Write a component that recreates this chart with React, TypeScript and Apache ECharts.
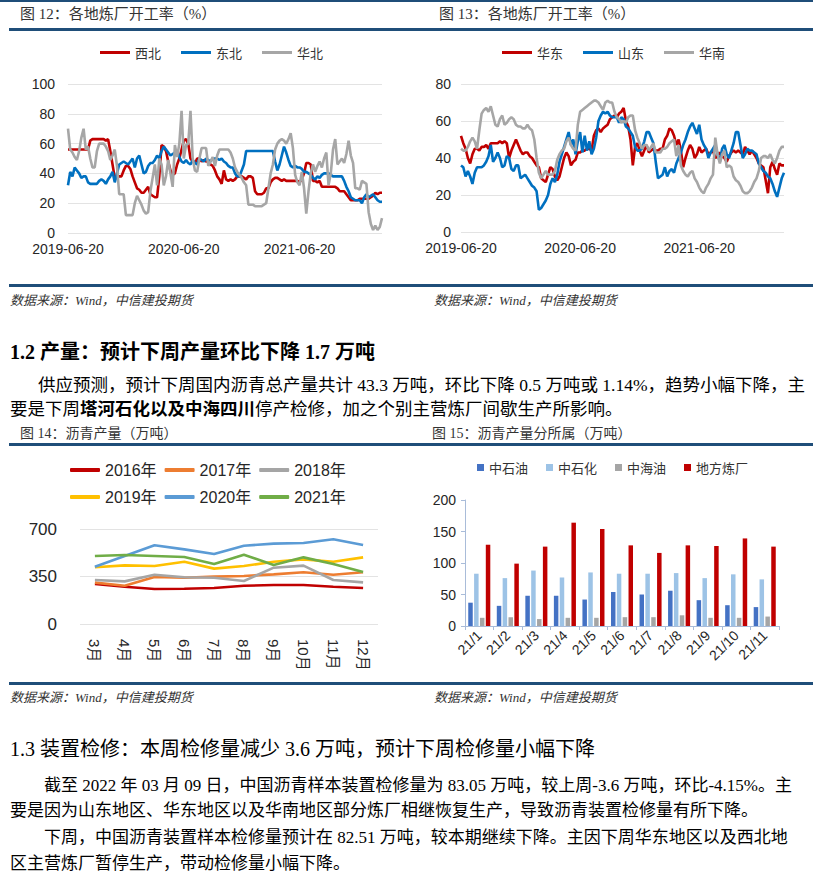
import React, { useEffect, useRef } from "react";
import * as echarts from "echarts";

// ---------- Data ----------
const weeklyTickLabels = ["2019-06-20", "2020-06-20", "2021-06-20"];

// 图12 各地炼厂开工率（%）
const xibei = [
  56, 56, 56, 56, 56, 56, 56, 56, 56, 56,
  62, 63, 63, 63, 63, 63, 63, 62, 63, 55,
  46, 37, 37, 38, 38, 42, 45, 45, 43, 38,
  34, 30, 29, 27, 27, 29, 31, 26, 25, 24,
  24, 38, 59, 58, 55, 48, 42, 39, 40, 46,
  50, 56, 62, 63, 60, 50, 48, 47, 50, 50,
  48, 49, 48, 48, 46, 45, 42, 38, 36, 33,
  42, 36, 35, 36, 35, 36, 38, 38, 38, 37,
  36, 38, 38, 37, 28, 26, 26, 26, 27, 30,
  30, 34, 36, 37, 37, 36, 35, 36, 35, 35,
  35, 35, 35, 35, 34, 36, 40, 47, 47, 46,
  35, 35, 34, 35, 31, 31, 31, 31, 31, 31,
  31, 30, 28, 28, 28, 26, 24, 22, 22, 22,
  22, 23, 23, 23, 23, 23, 24, 25, 27, 26,
  27, 27,
];
const dongbei = [
  32, 41, 38, 44, 42, 40, 37, 38, 38, 34,
  33, 33, 33, 33, 35, 36, 35, 33, 36, 38,
  41, 34, 40, 46, 47, 48, 47, 46, 48, 50,
  44, 50, 52, 46, 40, 41, 45, 47, 47, 49,
  52, 50, 55, 58, 56, 54, 52, 53, 54, 55,
  51, 48, 47, 49, 47, 46, 49, 47, 46, 50,
  49, 48, 50, 49, 48, 50, 50, 50, 49, 50,
  48, 47, 45, 44, 44, 40, 38, 38, 42, 46,
  55, 55, 55, 55, 55, 55, 55, 55, 55, 55,
  55, 55, 55, 48, 42, 46, 52, 58, 54, 49,
  45, 44, 45, 44, 44, 43, 41, 41, 40, 39,
  37, 36, 38, 37, 39, 40, 40, 40, 39, 38,
  38, 38, 38, 38, 35, 31, 28, 24, 23, 22,
  22, 22, 20, 24, 26, 24, 25, 26, 24, 22,
  21, 21,
];
const huabei = [
  70, 56, 54, 51, 49, 55, 64, 70, 56, 58,
  50, 44, 44, 55, 60, 60, 60, 58, 55, 49,
  52, 56, 45, 26, 26, 26, 12, 12, 12, 12,
  20, 25, 22, 19, 15, 13, 14, 28, 37, 46,
  32, 50, 46, 32, 38, 49, 40, 31, 59, 51,
  60, 82, 50, 59, 60, 82, 50, 42, 41, 50,
  57, 57, 57, 45, 48, 51, 45, 52, 56, 56,
  56, 56, 56, 54, 50, 44, 41, 39, 37, 34,
  32, 19, 19, 19, 18, 18, 18, 18, 19, 20,
  30, 40, 46, 56, 60, 62, 63, 62, 60, 63,
  67, 57, 39, 34, 32, 41, 30, 13, 28, 40,
  46, 41, 45, 48, 44, 50, 54, 32, 40, 56,
  63, 46, 48, 50, 47, 53, 62, 52, 47, 30,
  30, 29, 35, 34, 33, 14, 6, 2, 5, 2,
  4, 10,
];

// 图13 各地炼厂开工率（%）
const huadong = [
  52, 48, 45, 40, 37, 42, 45, 45, 44, 46,
  46, 47, 45, 48, 48, 48, 48, 49, 48, 49,
  48, 40, 44, 47, 50, 47, 44, 42, 43, 43,
  41, 40, 38, 36, 35, 29, 28, 27, 31, 35,
  34, 30, 28, 30, 35, 40, 43, 41, 36, 38,
  39, 43, 43, 44, 44, 45, 45, 44, 52, 55,
  56, 54, 56, 57, 58, 61, 62, 63, 62, 64,
  65, 67, 60, 57, 50, 36, 46, 48, 44, 41,
  44, 47, 43, 44, 45, 44, 44, 45, 45, 50,
  52, 56, 55, 52, 47, 50, 44, 35, 40, 44,
  47, 45, 40, 42, 46, 43, 44, 45, 42, 43,
  44, 40, 41, 43, 41, 40, 38, 41, 43, 44,
  43, 44, 43, 42, 46, 44, 42, 44, 42, 40,
  37, 36, 35, 28, 21, 35, 38, 34, 31, 37,
  36, 36,
];
const shandong = [
  36, 35, 30, 33, 30, 26, 32, 35, 35, 35,
  36, 38, 41, 47, 38, 40, 43, 40, 35, 36,
  41, 40, 34, 33, 36, 36, 29, 30, 31, 29,
  27, 25, 24, 22, 12, 13, 15, 17, 20, 26,
  29, 27, 31, 38, 42, 46, 50, 54, 47, 50,
  42, 49, 54, 43, 52, 44, 49, 42, 45, 51,
  60, 63, 65, 64, 65, 63, 62, 62, 62, 59,
  62, 61, 57, 56, 54, 52, 46, 44, 44, 45,
  49, 54, 54, 51, 48, 38, 29, 30, 31, 35,
  30, 33, 34, 32, 37, 40, 43, 47, 50, 54,
  57, 59, 56, 53, 58, 50, 47, 45, 40, 43,
  45, 47, 42, 38, 45, 47, 42, 40, 44, 48,
  54, 54, 47, 40, 42, 45, 44, 44, 43, 42,
  37, 35, 33, 32, 30, 29, 26, 22, 19, 24,
  29, 32,
];
const huanan = [
  45, 44, 44, 46, 49, 51, 49, 45, 55, 64,
  66, 67, 65, 68, 63, 58, 57, 61, 63, 58,
  59, 61, 62, 61, 58, 57, 57, 56, 56, 58,
  56, 55, 50, 40, 32, 29, 31, 33, 31, 31,
  31, 33, 39, 42, 44, 45, 49, 51, 47, 45,
  44, 58, 65, 66, 67, 68, 69, 70, 71, 71,
  70, 68, 66, 70, 71, 70, 70, 65, 62, 61,
  59, 60, 59, 62, 63, 63, 55, 51, 48, 45,
  47, 47, 44, 46, 48, 43, 43, 43, 45, 45,
  46, 48, 49, 50, 41, 47, 36, 33, 31, 30,
  32, 33, 29, 27, 24, 22, 21, 24, 26, 29,
  31, 51, 42, 37, 42, 44, 35, 36, 35, 30,
  28, 27, 25, 22, 21, 21, 22, 24, 27, 29,
  33, 40, 41, 41, 40, 42, 39, 37, 40, 44,
  46, 46,
];

// 图14 沥青产量（万吨）
const months = ["3月", "4月", "5月", "6月", "7月", "8月", "9月", "10月", "11月", "12月"];
const y2016 = [295, 275, 258, 260, 265, 282, 287, 287, 275, 265];
const y2017 = [305, 282, 346, 341, 349, 354, 366, 381, 363, 381];
const y2018 = [324, 314, 363, 344, 341, 317, 415, 430, 324, 307];
const y2019 = [418, 432, 427, 459, 408, 427, 459, 476, 459, 491];
const y2020 = [422, 501, 580, 550, 516, 577, 592, 597, 624, 582];
const y2021 = [501, 508, 501, 494, 442, 511, 435, 491, 442, 383];

// 图15 沥青产量分所属（万吨）
const barMonths = ["21/1", "21/2", "21/3", "21/4", "21/5", "21/6", "21/7", "21/8", "21/9", "21/10", "21/11"];
const zhongshiyou = [37, 32, 48, 48, 42, 54, 50, 56, 41, 33, 30];
const zhongshihua = [83, 76, 88, 77, 85, 83, 83, 84, 76, 82, 74];
const zhonghaiyou = [13, 14, 11, 13, 13, 14, 14, 17, 13, 13, 15];
const difang = [129, 99, 126, 164, 154, 128, 116, 128, 127, 139, 126];

// ---------- Styling ----------
const SANS = "'Liberation Sans', Arial, 'Noto Sans CJK SC', sans-serif";
const SERIF = "'Liberation Serif', 'Times New Roman', 'Noto Sans CJK SC', serif";
const CJK = "'Noto Sans CJK SC', sans-serif";
const NAVY = "#1F4E79";
const RED = "#C00000";
const BLUE = "#0070C0";
const GRAY = "#A6A6A6";

const weekDates = xibei.map((_, i) => {
  const d = new Date(Date.UTC(2019, 5, 20) + i * 7 * 86400000);
  return d.toISOString().slice(0, 10);
});

function hline(x1: number, x2: number, y: number, h: number) {
  return { type: "rect", silent: true, shape: { x: x1, y, width: x2 - x1, height: h }, style: { fill: NAVY } };
}
function txt(x: number, y: number, text: string, font: string, fill = "#000", extra: any = {}) {
  return {
    type: "text",
    silent: true,
    x,
    y,
    style: {
      text,
      font,
      fill,
      align: "left",
      verticalAlign: "middle",
      textAlign: "left",
      textVerticalAlign: "middle",
      ...extra,
    },
  };
}

function lineSeries(name: string, data: number[], color: string, xi: number, width = 2.6) {
  return {
    name,
    type: "line",
    xAxisIndex: xi,
    yAxisIndex: xi,
    data,
    symbol: "none",
    showSymbol: false,
    lineStyle: { color, width },
    itemStyle: { color },
  };
}

function weeklyXAxis(gridIndex: number) {
  return {
    type: "category",
    gridIndex,
    data: weekDates,
    boundaryGap: false,
    axisLine: { show: false },
    axisTick: { show: false },
    splitLine: { show: false },
    axisLabel: {
      interval: (i: number) => i % 52 === 0,
      formatter: (v: string, i: number) => weeklyTickLabels[i / 52] ?? v,
      fontSize: 14,
      fontFamily: SANS,
      color: "#262626",
      margin: 9,
    },
  };
}
function valueYAxis(gridIndex: number, max: number, interval: number, fontSize: number, margin: number, grid = true) {
  return {
    type: "value",
    gridIndex,
    min: 0,
    max,
    interval,
    axisLine: { show: false },
    axisTick: { show: false },
    splitLine: { show: grid, lineStyle: { color: "#E3E3E3", width: 1 } },
    axisLabel: { fontSize, fontFamily: SANS, color: "#262626", margin },
  };
}

export default function App() {
  const ref = useRef<HTMLDivElement>(null);
  useEffect(() => {
    if (!ref.current) return;
    const chart = echarts.init(ref.current, undefined, { renderer: "svg" });
    const barAxisColor = "#A9BCD9";
    const option: any = {
      animation: false,
      backgroundColor: "#fff",
      grid: [
        { left: 68, top: 84, width: 314, height: 149 },
        { left: 461, top: 84, width: 323, height: 148 },
        { left: 80, top: 529, width: 298, height: 95 },
        { left: 465, top: 500, width: 314, height: 126 },
      ],
      legend: [
        {
          data: ["西北", "东北", "华北"],
          left: 100, top: 46, padding: 0, itemGap: 20,
          icon: "rect", itemWidth: 30, itemHeight: 3,
          textStyle: { fontSize: 13, fontFamily: CJK, color: "#333" },
        },
        {
          data: ["华东", "山东", "华南"],
          left: 502, top: 46, padding: 0, itemGap: 20,
          icon: "rect", itemWidth: 30, itemHeight: 3,
          textStyle: { fontSize: 13, fontFamily: CJK, color: "#333" },
        },
        {
          data: ["2016年", "2017年", "2018年"],
          left: 70, top: 462, padding: 0, itemGap: 8,
          icon: "roundRect", itemWidth: 30, itemHeight: 4,
          textStyle: { fontSize: 16, fontFamily: SANS, color: "#262626" },
        },
        {
          data: ["2019年", "2020年", "2021年"],
          left: 70, top: 489, padding: 0, itemGap: 8,
          icon: "roundRect", itemWidth: 30, itemHeight: 4,
          textStyle: { fontSize: 16, fontFamily: SANS, color: "#262626" },
        },
        {
          data: ["中石油", "中石化", "中海油", "地方炼厂"],
          left: 477, top: 461, padding: 0, itemGap: 18,
          icon: "rect", itemWidth: 7, itemHeight: 7,
          textStyle: { fontSize: 13, fontFamily: CJK, color: "#333" },
        },
      ],
      xAxis: [
        weeklyXAxis(0),
        weeklyXAxis(1),
        {
          type: "category",
          gridIndex: 2,
          data: months,
          boundaryGap: true,
          axisLine: { show: false },
          axisTick: { show: false },
          axisLabel: { rotate: -90, fontSize: 15, fontFamily: SANS, color: "#262626", margin: 15, interval: 0 },
        },
        {
          type: "category",
          gridIndex: 3,
          data: barMonths,
          boundaryGap: true,
          axisLine: { show: true, lineStyle: { color: barAxisColor, width: 1 } },
          axisTick: { show: true, length: 4, lineStyle: { color: barAxisColor } },
          axisLabel: { rotate: 45, fontSize: 14, fontFamily: SANS, color: "#262626", margin: 7, interval: 0 },
        },
      ],
      yAxis: [
        valueYAxis(0, 100, 20, 14, 13),
        valueYAxis(1, 80, 20, 14, 10),
        valueYAxis(2, 700, 350, 17, 23),
        {
          type: "value",
          gridIndex: 3,
          min: 0,
          max: 200,
          interval: 50,
          axisLine: { show: true, lineStyle: { color: barAxisColor, width: 1 } },
          axisTick: { show: true, length: 4, lineStyle: { color: barAxisColor } },
          splitLine: { show: false },
          axisLabel: { fontSize: 14, fontFamily: SANS, color: "#262626", margin: 9 },
        },
      ],
      series: [
        lineSeries("西北", xibei, RED, 0),
        lineSeries("东北", dongbei, BLUE, 0),
        lineSeries("华北", huabei, GRAY, 0),
        lineSeries("华东", huadong, RED, 1),
        lineSeries("山东", shandong, BLUE, 1),
        lineSeries("华南", huanan, GRAY, 1),
        lineSeries("2016年", y2016, "#C00000", 2, 2.6),
        lineSeries("2017年", y2017, "#ED7D31", 2, 2.6),
        lineSeries("2018年", y2018, "#A5A5A5", 2, 2.6),
        lineSeries("2019年", y2019, "#FFC000", 2, 2.6),
        lineSeries("2020年", y2020, "#5B9BD5", 2, 2.6),
        lineSeries("2021年", y2021, "#70AD47", 2, 2.6),
        ...[
          ["中石油", zhongshiyou, "#4472C4"],
          ["中石化", zhongshihua, "#9DC3E6"],
          ["中海油", zhonghaiyou, "#A5A5A5"],
          ["地方炼厂", difang, "#C00000"],
        ].map(([name, data, color]) => ({
          name,
          type: "bar",
          xAxisIndex: 3,
          yAxisIndex: 3,
          data,
          barWidth: 4.5,
          barGap: "30%",
          itemStyle: { color },
        })),
      ],
      graphic: {
        elements: [
          hline(0, 411, 0, 2),
          hline(411, 813, 0, 2),
          txt(20, 14, "图 12：各地炼厂开工率（%）", `15px ${SERIF}`, "#333"),
          txt(439, 14, "图 13：各地炼厂开工率（%）", `15px ${SERIF}`, "#333"),
          hline(9, 411, 28, 3),
          hline(411, 813, 28, 3),
          hline(9, 411, 284, 3),
          hline(411, 813, 284, 3),
          txt(10, 300, "数据来源：Wind，中信建投期货", `italic 13px ${SERIF}`, "#333"),
          txt(434, 300, "数据来源：Wind，中信建投期货", `italic 13px ${SERIF}`, "#333"),

          txt(10, 352, "1.2 产量：预计下周产量环比下降 1.7 万吨", `bold 20px ${SERIF}`, "#000"),
          txt(38, 385, "供应预测，预计下周国内沥青总产量共计 43.3 万吨，环比下降 0.5 万吨或 1.14%，趋势小幅下降，主", `17.5px ${SERIF}`, "#000"),
          txt(10, 409, "要是下周{b|塔河石化以及中海四川}停产检修，加之个别主营炼厂间歇生产所影响。", `17.5px ${SERIF}`, "#000", {
            rich: { b: { fontWeight: "bold", fontSize: 17.5, fontFamily: SERIF, fill: "#000", color: "#000" } },
          }),

          txt(20, 433, "图 14：沥青产量（万吨）", `14px ${SERIF}`, "#333"),
          txt(432, 433, "图 15：沥青产量分所属（万吨）", `14px ${SERIF}`, "#333"),
          hline(9, 411, 443, 3),
          hline(411, 813, 443, 3),
          hline(9, 411, 682, 3),
          hline(411, 813, 682, 3),
          txt(10, 697, "数据来源：Wind，中信建投期货", `italic 13px ${SERIF}`, "#333"),
          txt(434, 697, "数据来源：Wind，中信建投期货", `italic 13px ${SERIF}`, "#333"),

          txt(10, 749, "1.3 装置检修：本周检修量减少 3.6 万吨，预计下周检修量小幅下降", `20px ${SERIF}`, "#000"),
          txt(44, 785, "截至 2022 年 03 月 09 日，中国沥青样本装置检修量为 83.05 万吨，较上周-3.6 万吨，环比-4.15%。主", `17px ${SERIF}`, "#000"),
          txt(10, 810, "要是因为山东地区、华东地区以及华南地区部分炼厂相继恢复生产，导致沥青装置检修量有所下降。", `17px ${SERIF}`, "#000"),
          txt(44, 837, "下周，中国沥青装置样本检修量预计在 82.51 万吨，较本期继续下降。主因下周华东地区以及西北地", `17px ${SERIF}`, "#000"),
          txt(10, 863, "区主营炼厂暂停生产，带动检修量小幅下降。", `17px ${SERIF}`, "#000"),
        ],
      },
    };
    chart.setOption(option);
    return () => chart.dispose();
  }, []);
  return (
    <div
      ref={ref}
      style={{ position: "absolute", left: 0, top: 0, width: 822, height: 883, background: "#fff" }}
    />
  );
}
